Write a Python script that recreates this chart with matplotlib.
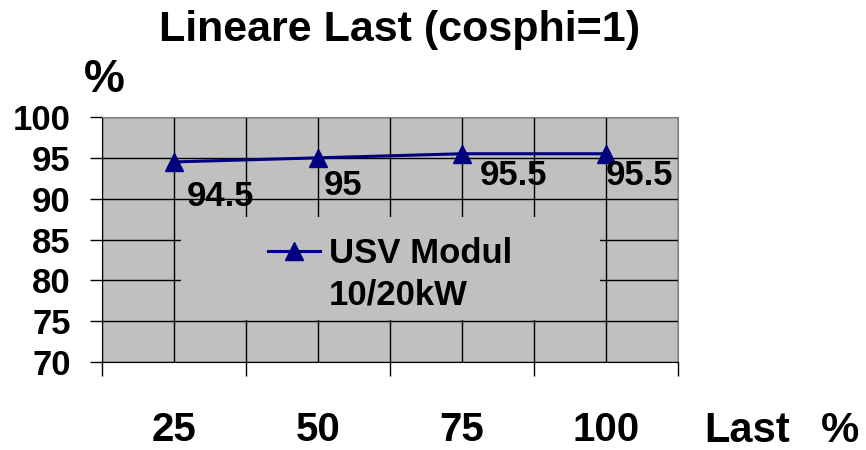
import numpy as np
import matplotlib
matplotlib.use("Agg")
from matplotlib import pyplot as plt
from matplotlib.patches import Rectangle

# data
last_labels = ["25", "50", "75", "100"]
efficiency = [94.5, 95, 95.5, 95.5]
series_name = "USV Modul\n10/20kW"
y_ticks = [70, 75, 80, 85, 90, 95, 100]

# label offsets in points (Excel placed them a bit oddly)
label_offsets = [(9, -25), (4, -20), (13, -16), (0, -16)]

plt.rcParams['font.family'] = ['Liberation Sans', 'DejaVu Sans']
plt.rcParams['font.weight'] = 'bold'

fig = plt.figure(figsize=(8.66, 4.5), dpi=100)
ax = fig.add_axes([102/866, 88/450, 576/866, 245/450])
ax.set_facecolor('#c0c0c0')

x = np.arange(len(last_labels))
ax.plot(x, efficiency, color='#000080', lw=2.2, marker='^', ms=13, zorder=3)

for xi, v, off in zip(x, efficiency, label_offsets):
    ax.annotate(f"{v:g}", (xi, v), xytext=off, textcoords='offset points',
                ha='left', va='center', fontsize=25, fontweight='bold', zorder=4)

ax.set_xlim(-0.5, len(last_labels) - 0.5)
ax.set_ylim(70, 100)
ax.set_yticks(y_ticks)
ax.set_xticks(x)
ax.set_xticklabels(last_labels)
ax.set_xticks(np.arange(-0.5, len(last_labels)), minor=True)

ax.tick_params(axis='y', direction='out', length=8.6, width=1, pad=14, labelsize=25)
ax.tick_params(axis='x', which='major', length=0, pad=35, labelsize=29)
ax.tick_params(axis='x', which='minor', direction='out', length=10, width=1)

ax.set_axisbelow(True)
ax.grid(True, axis='y', color='black', lw=1)
ax.grid(True, axis='x', which='both', color='black', lw=1)

for s in ['top', 'right']:
    ax.spines[s].set_color('#808080')
for s in ['left', 'bottom']:
    ax.spines[s].set_color('black')

# grey legend box covering the grid
ax.add_patch(Rectangle((0.137, 0.171), 0.728, 0.421, transform=ax.transAxes,
                       facecolor='#c0c0c0', edgecolor='none', zorder=1.5))
# tall handle box so the marker sits on the first label line
leg = ax.legend([series_name], loc='center left', bbox_to_anchor=(0.288, 0.339),
                frameon=False, fontsize=25, handlelength=1.5, handletextpad=0.26,
                handleheight=5.35, borderpad=0, borderaxespad=0)
for t in leg.get_texts():
    t.set_fontweight('bold')
    t.set_linespacing(1.35)

fig.text(400/866, 1 - 30/450, "Lineare Last (cosphi=1)", ha='center', va='center',
         fontsize=31, fontweight='bold')
fig.text(84/866, 1 - 80/450, "%", ha='left', va='center', fontsize=33, fontweight='bold')
fig.text(704/866, 1 - 431/450, "Last", ha='left', va='center', fontsize=30,
         fontweight='bold')
fig.text(821/866, 1 - 431/450, "%", ha='left', va='center', fontsize=31,
         fontweight='bold')

fig.savefig('out.png', dpi=100)
